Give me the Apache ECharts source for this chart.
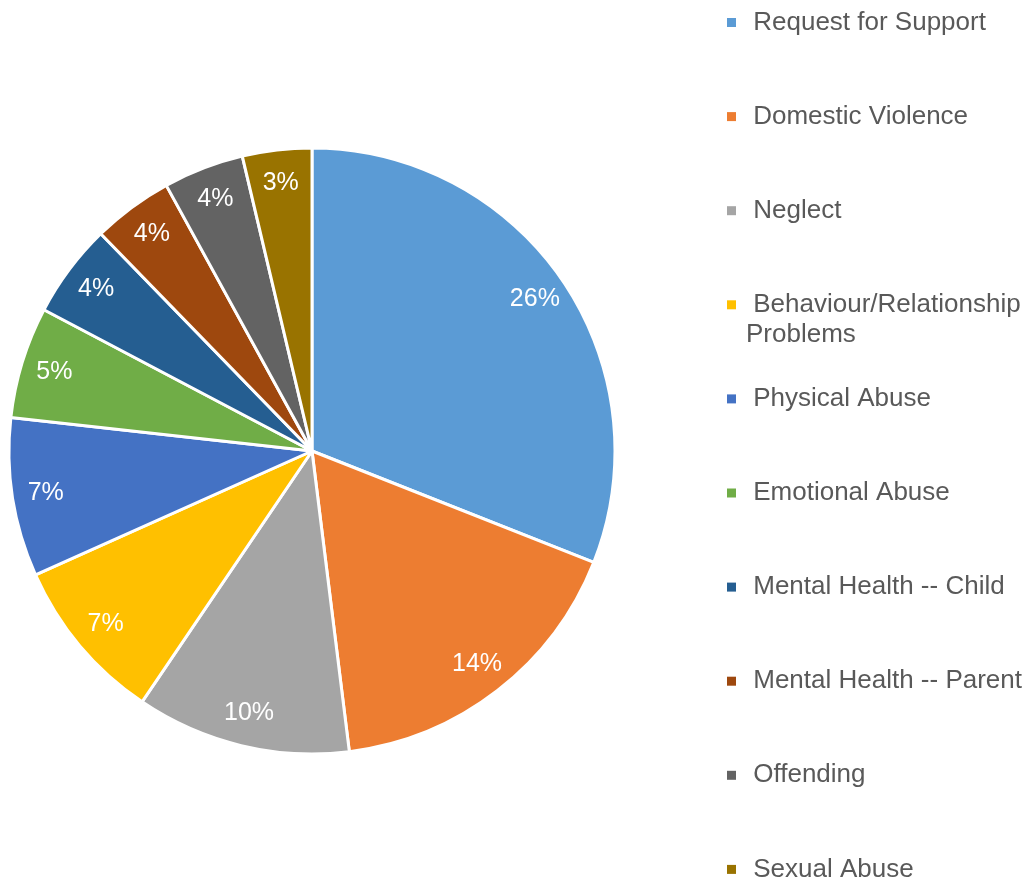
<!DOCTYPE html>
<html>
<head>
<meta charset="utf-8">
<script src="https://cdn.jsdelivr.net/npm/echarts@6/dist/echarts.min.js"></script>
<style>
html,body{margin:0;padding:0;background:#fff;}
#chart{width:1032px;height:880px;}
</style>
</head>
<body>
<div id="chart"></div>
<script>
const categories = [
  'Request for Support',
  'Domestic Violence',
  'Neglect',
  'Behaviour/Relationship\nProblems',
  'Physical Abuse',
  'Emotional Abuse',
  'Mental Health -- Child',
  'Mental Health -- Parent',
  'Offending',
  'Sexual Abuse'
];
const values = [26.0, 14.3, 9.6, 7.4, 7.1, 5.0, 4.2, 3.6, 3.6, 3.1];
const colors = ['#5B9BD5', '#ED7D31', '#A5A5A5', '#FFC000', '#4472C4', '#70AD47', '#255E91', '#9E480E', '#636363', '#997300'];

const FONT = "'Liberation Sans', Arial, sans-serif";
const pieData = categories.map((c, i) => ({ name: c, value: values[i], itemStyle: { color: colors[i] } }));

const legendData = categories.map(c => ({
  name: c,
  textStyle: { padding: c.indexOf('\n') >= 0 ? [0, 0, 0, 5] : [30, 0, 30, 5] }
}));

const chart = echarts.init(document.getElementById('chart'), null, { renderer: 'canvas' });
chart.setOption({
  animation: false,
  color: colors,
  legend: {
    orient: 'vertical',
    left: 727,
    top: 22.5 - 45,
    height: 1200,
    padding: 0,
    itemWidth: 9,
    itemHeight: 9,
    itemGap: 4.1,
    icon: 'rect',
    itemStyle: { borderWidth: 0 },
    selectedMode: false,
    formatter: n => (n.indexOf('\n') >= 0 ? '\n ' : ' ') + n,
    textStyle: { fontFamily: FONT, fontSize: 26, color: '#595959', lineHeight: 30 },
    data: legendData
  },
  series: [
    {
      type: 'pie',
      center: [312, 451],
      radius: [0, 303],
      startAngle: 90,
      clockwise: true,
      avoidLabelOverlap: false,
      silent: true,
      label: { show: false },
      labelLine: { show: false },
      itemStyle: { borderColor: '#ffffff', borderWidth: 3 },
      data: pieData
    },
    {
      type: 'pie',
      center: [312, 451],
      radius: [230, 303],
      startAngle: 90,
      clockwise: true,
      avoidLabelOverlap: false,
      silent: true,
      itemStyle: { color: 'rgba(0,0,0,0)', borderWidth: 0 },
      label: {
        show: true,
        position: 'inside',
        formatter: p => Math.round(p.value) + '%',
        color: '#ffffff',
        fontFamily: FONT,
        fontSize: 25
      },
      labelLine: { show: false },
      data: categories.map((c, i) => ({ name: c + ' ', value: values[i] }))
    }
  ]
});
</script>
</body>
</html>
